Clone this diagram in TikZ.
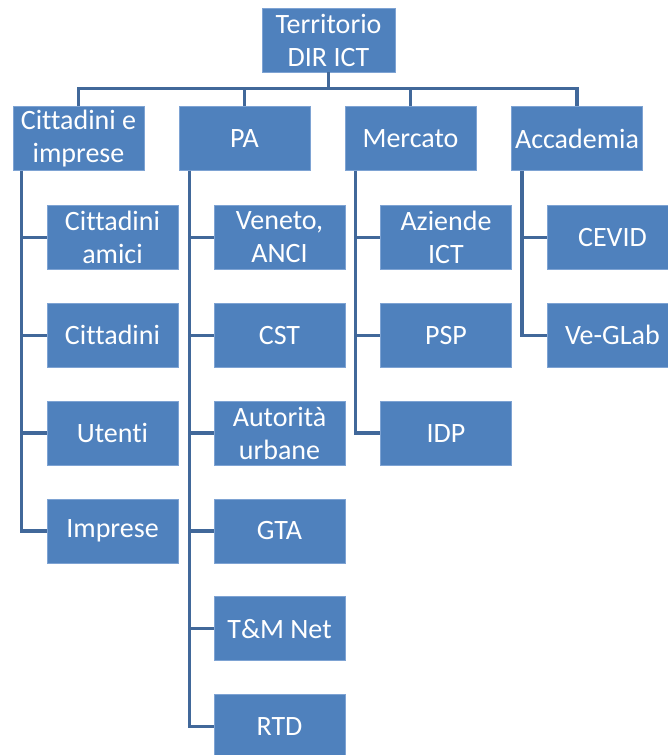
\documentclass[tikz,border=0pt]{standalone}
\usepackage{fontspec}
\setmainfont{Carlito}[Ligatures={NoCommon}]
\usepackage{tikz}
\usepackage{xcolor}
\usetikzlibrary{positioning}
\definecolor{boxblue}{HTML}{4F81BD}
\definecolor{boxedge}{HTML}{7EA3D3}
\definecolor{linkblue}{HTML}{41689A}
\tikzset{
  unit/.style={draw=boxedge, line width=0.8pt, fill=boxblue, text=white,
    minimum width=131pt, minimum height=64pt, inner sep=0pt, align=center,
    font=\fontsize{28}{33}\selectfont},
  link/.style={draw=linkblue, line width=3.5pt}
}

\begin{document}
\begin{tikzpicture}[x=1pt,y=-1pt]
\useasboundingbox (0,0) rectangle (668,755);
\clip (0,0) rectangle (668,755);
% root and first level
\node[unit, minimum width=133pt] (root) at (328.5,40) {Territorio\\DIR ICT};
\node[unit] (cit) at (78.5,138.5) {Cittadini e\\imprese};
\node[unit] (pa) at (244.5,138.5) {PA};
\node[unit] (merc) at (410.5,138.5) {Mercato};
\node[unit] (acc) at (577,138.5) {Accademia};
% Cittadini e imprese
\node[unit] (cit1) at (112.5,237.5) {Cittadini\\amici};
\node[unit] (cit2) at (112.5,335.3) {Cittadini};
\node[unit] (cit3) at (112.5,433.1) {Utenti};
\node[unit] (cit4) at (112.5,530.9) {Imprese};
% PA
\node[unit] (pa1) at (279.5,237.5) {Veneto,\\ANCI};
\node[unit] (pa2) at (279.5,335.3) {CST};
\node[unit] (pa3) at (279.5,433.1) {Autorità\\urbane};
\node[unit] (pa4) at (279.5,530.9) {GTA};
\node[unit] (pa5) at (279.5,628.7) {T\&M Net};
\node[unit] (pa6) at (279.5,726.5) {RTD};
% Mercato
\node[unit] (merc1) at (446,237.5) {Aziende\\ICT};
\node[unit] (merc2) at (446,335.3) {PSP};
\node[unit] (merc3) at (446,433.1) {IDP};
% Accademia
\node[unit] (acc1) at (612.5,237.5) {CEVID};
\node[unit] (acc2) at (612.5,335.3) {Ve-GLab};
% links
\draw[link] (root.south) -- ++(0,16) -| (cit.north);
\draw[link] (root.south) -- ++(0,16) -| (pa.north);
\draw[link] (root.south) -- ++(0,16) -| (merc.north);
\draw[link] (root.south) -- ++(0,16) -| (acc.north);
\draw[link] ([xshift=9pt]cit.south west) |- (cit1.west);
\draw[link] ([xshift=9pt]cit.south west) |- (cit2.west);
\draw[link] ([xshift=9pt]cit.south west) |- (cit3.west);
\draw[link] ([xshift=9pt]cit.south west) |- (cit4.west);
\draw[link] ([xshift=11pt]pa.south west) |- (pa1.west);
\draw[link] ([xshift=11pt]pa.south west) |- (pa2.west);
\draw[link] ([xshift=11pt]pa.south west) |- (pa3.west);
\draw[link] ([xshift=11pt]pa.south west) |- (pa4.west);
\draw[link] ([xshift=11pt]pa.south west) |- (pa5.west);
\draw[link] ([xshift=11pt]pa.south west) |- (pa6.west);
\draw[link] ([xshift=11pt]merc.south west) |- (merc1.west);
\draw[link] ([xshift=11pt]merc.south west) |- (merc2.west);
\draw[link] ([xshift=11pt]merc.south west) |- (merc3.west);
\draw[link] ([xshift=11pt]acc.south west) |- (acc1.west);
\draw[link] ([xshift=11pt]acc.south west) |- (acc2.west);
\end{tikzpicture}
\end{document}
